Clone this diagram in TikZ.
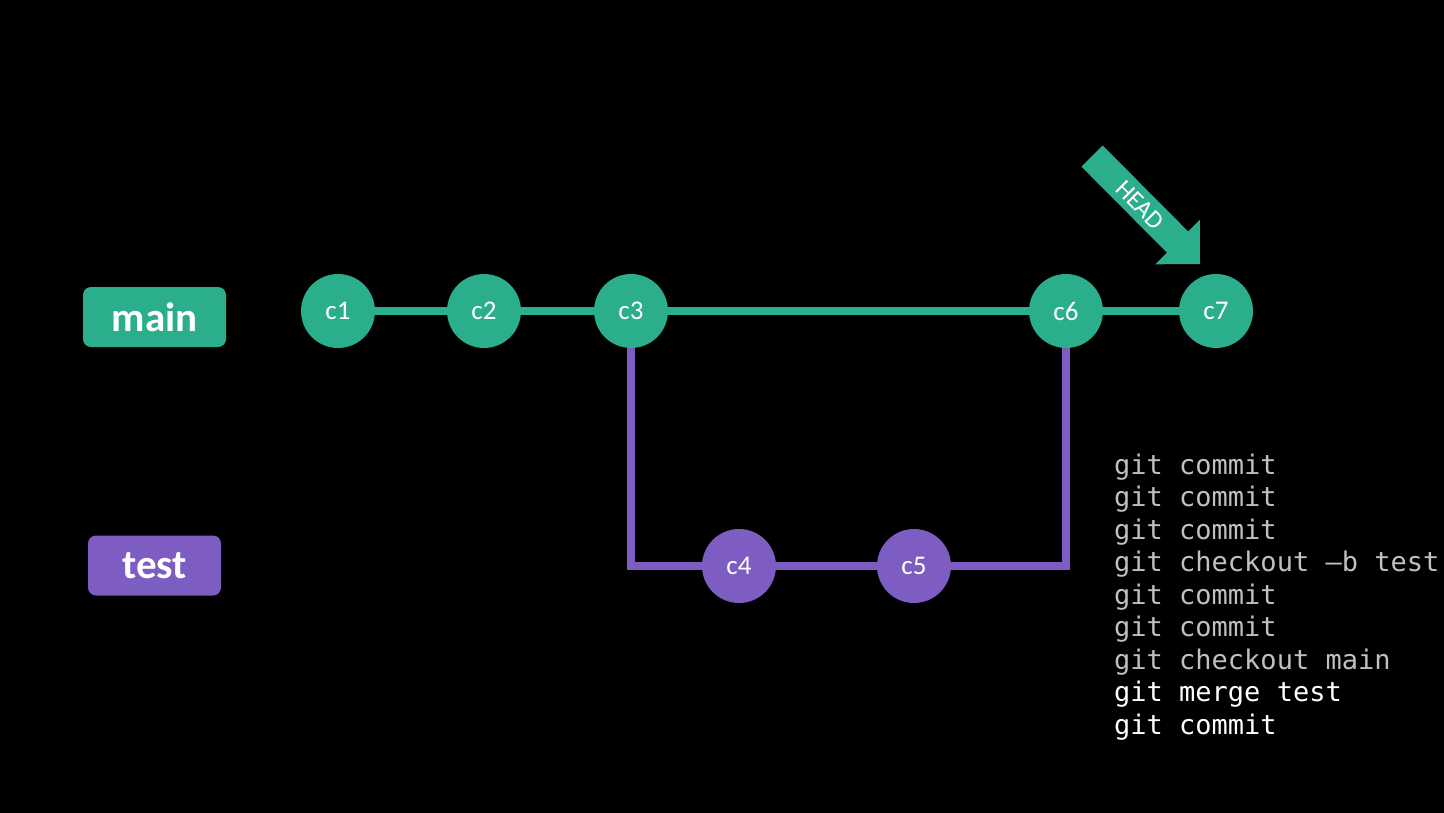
\documentclass[tikz,border=0pt]{standalone}
\usepackage{fontspec}
\setmainfont{Carlito}
\newfontfamily\codefont{DejaVu Sans Mono}
\definecolor{gitgreen}{RGB}{43,174,140}
\definecolor{gitpurple}{RGB}{126,93,195}
\definecolor{codegray}{RGB}{192,192,192}
\begin{document}
\begin{tikzpicture}[x=1pt,y=-1pt,
  commit/.style={circle,minimum size=74pt,inner sep=0pt,text=white,font=\fontsize{27}{27}\selectfont},
  gcommit/.style={commit,fill=gitgreen},
  pcommit/.style={commit,fill=gitpurple},
  branch/.style={rounded corners=8pt,minimum width=#1,minimum height=60pt,inner sep=0pt,text=white,font=\fontsize{41}{41}\selectfont\bfseries},
  gline/.style={draw=gitgreen,line width=8pt},
  pline/.style={draw=gitpurple,line width=8pt},
  codeline/.style={anchor=base west,inner sep=0pt,font=\codefont\fontsize{27}{27}\selectfont}
]
\useasboundingbox (0,0) rectangle (1444,812);
\fill[black] (-4,-4) rectangle (1448,816);

% branch labels
\node[branch=143pt,fill=gitgreen] (mainlbl) at (154.5,317) {main};
\node[branch=133pt,fill=gitpurple] (testlbl) at (154.5,565.5) {test};

% commits
\node[gcommit] (c1) at (338,311) {c1};
\node[gcommit] (c2) at (484,311) {c2};
\node[gcommit] (c3) at (631,311) {c3};
\node[gcommit] (c6) at (1066,311) {c6};
\node[gcommit] (c7) at (1216,311) {c7};
\node[pcommit] (c4) at (739,566) {c4};
\node[pcommit] (c5) at (914,566) {c5};

% connectors
\draw[pline] (c3.south) |- (c4.west);
\draw[pline] (c4.east) -- (c5.west);
\draw[pline] (c5.east) -| (c6.south);
\draw[gline] (c1.east) -- (c2.west);
\draw[gline] (c2.east) -- (c3.west);
\draw[gline] (c3.east) -- (c6.west);
\draw[gline] (c6.east) -- (c7.west);

% HEAD arrow
\fill[gitgreen] (1102.6,145.4) -- (1188.1,231.4) -- (1199.8,219.7) -- (1200,264)
  -- (1155.2,264.3) -- (1166.9,252.6) -- (1081.4,166.6) -- cycle;
\node[text=white,rotate=-45,inner sep=0pt,font=\fontsize{25}{25}\selectfont] (head) at (1140,205) {HEAD};

% commands
\node[codeline,text=codegray] (l1) at (1114,474) {git commit};
\node[codeline,text=codegray] (l2) at (1114,506.5) {git commit};
\node[codeline,text=codegray] (l3) at (1114,539) {git commit};
\node[codeline,text=codegray] (l4) at (1114,571.5) {git checkout –b test};
\node[codeline,text=codegray] (l5) at (1114,604) {git commit};
\node[codeline,text=codegray] (l6) at (1114,636.5) {git commit};
\node[codeline,text=codegray] (l7) at (1114,669) {git checkout main};
\node[codeline,text=white] (l8) at (1114,701.5) {git merge test};
\node[codeline,text=white] (l9) at (1114,734) {git commit};
\end{tikzpicture}
\end{document}
